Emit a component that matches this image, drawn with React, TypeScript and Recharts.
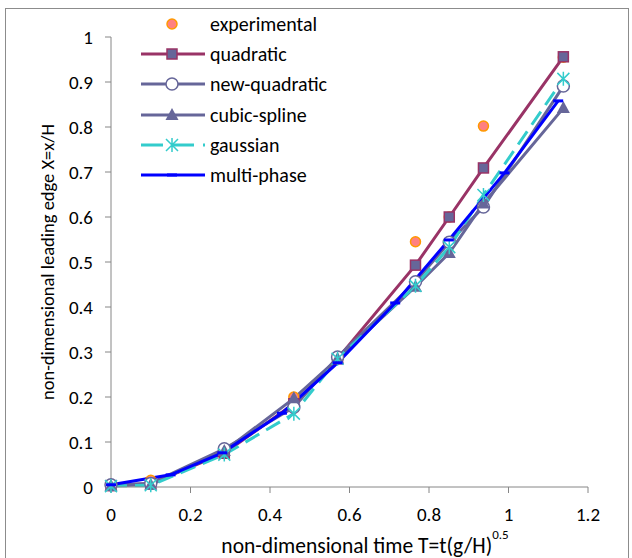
import {
  ComposedChart,
  Legend,
  Line,
  Scatter,
  XAxis,
  YAxis,
} from 'recharts'

// sampling times shared by the fitted curves (multi-phase has its own)
const timeT = [0, 0.1, 0.285, 0.46, 0.57, 0.766, 0.851, 0.937, 1.138]
const experimental = [0.005, 0.015, 0.08, 0.2, 0.285, 0.545, 0.6, 0.802, 0.955]
const quadratic = [0.003, 0.008, 0.075, 0.185, 0.285, 0.493, 0.6, 0.709, 0.956]
const newQuadratic = [0.005, 0.008, 0.085, 0.177, 0.289, 0.456, 0.544, 0.622, 0.891]
const cubicSpline = [0.003, 0.005, 0.08, 0.197, 0.285, 0.445, 0.52, 0.63, 0.842]
const gaussian = [0.002, 0.004, 0.072, 0.163, 0.285, 0.447, 0.533, 0.649, 0.907]

const multiPhaseT = [0, 0.15, 0.28, 0.43, 0.57, 0.715, 0.85, 0.99, 1.125]
const multiPhase = [0.005, 0.027, 0.076, 0.164, 0.276, 0.409, 0.549, 0.698, 0.858]

const xTicks = [0, 0.2, 0.4, 0.6, 0.8, 1, 1.2]
const yTicks = [0, 0.1, 0.2, 0.3, 0.4, 0.5, 0.6, 0.7, 0.8, 0.9, 1]

const FONT = 'Carlito, Calibri, Lato, sans-serif'
const AXIS = '#868686'
const C = {
  orange: '#ff9900',
  salmon: '#ff8080',
  maroon: '#993366',
  slate: '#666699',
  teal: '#33cccc',
  blue: '#0000ff',
}

const toPoints = (ts: number[], vs: number[]) => ts.map((t, i) => ({ t, v: vs[i] }))

type DotProps = { cx?: number; cy?: number; index?: number }

const Square = ({ cx = 0, cy = 0 }: DotProps) => (
  <rect x={cx - 5} y={cy - 5} width={10} height={10} fill={C.slate} stroke={C.maroon} strokeWidth={1.5} />
)
const Ring = ({ cx = 0, cy = 0 }: DotProps) => (
  <circle cx={cx} cy={cy} r={6} fill="#fff" stroke={C.slate} strokeWidth={1.5} />
)
const Tri = ({ cx = 0, cy = 0 }: DotProps) => (
  <path d={`M${cx},${cy - 7} L${cx + 6.5},${cy + 5} L${cx - 6.5},${cy + 5} Z`} fill={C.slate} />
)
const Star = ({ cx = 0, cy = 0 }: DotProps) => (
  <path
    d={`M${cx},${cy - 7} V${cy + 7} M${cx - 6},${cy - 6} L${cx + 6},${cy + 6} M${cx + 6},${cy - 6} L${cx - 6},${cy + 6}`}
    stroke={C.teal}
    strokeWidth={1.5}
    fill="none"
  />
)
const Dash = ({ cx = 0, cy = 0 }: DotProps) => (
  <rect x={cx - 5} y={cy - 1.5} width={10} height={3} fill={C.blue} />
)
const Blob = ({ cx = 0, cy = 0 }: DotProps) => (
  <circle cx={cx} cy={cy} r={5} fill={C.salmon} stroke={C.orange} strokeWidth={1.5} />
)

const dotOf = (Shape: (p: DotProps) => JSX.Element, name: string) => (p: DotProps) => (
  <Shape key={`${name}-${p.index}`} cx={p.cx} cy={p.cy} />
)

const legendRows = [
  { name: 'experimental', marker: Blob, stroke: undefined as string | undefined, dash: undefined as string | undefined },
  { name: 'quadratic', marker: Square, stroke: C.maroon, dash: undefined },
  { name: 'new-quadratic', marker: Ring, stroke: C.slate, dash: undefined },
  { name: 'cubic-spline', marker: Tri, stroke: C.slate, dash: undefined },
  { name: 'gaussian', marker: Star, stroke: C.teal, dash: '22 9' },
  { name: 'multi-phase', marker: Dash, stroke: C.blue, dash: undefined },
]

const renderLegend = () => (
  <div style={{ fontFamily: FONT, fontSize: 20, color: '#000' }}>
    {legendRows.map((r) => {
      const M = r.marker
      return (
        <div key={r.name} style={{ display: 'flex', alignItems: 'center', height: 30.2 }}>
          <svg width={68} height={20} style={{ display: 'block' }}>
            {r.stroke && (
              <line x1={2} y1={10} x2={66} y2={10} stroke={r.stroke} strokeWidth={3} strokeDasharray={r.dash} />
            )}
            <M cx={33} cy={10} />
          </svg>
          <span style={{ marginLeft: 3 }}>{r.name}</span>
        </div>
      )
    })}
  </div>
)

const YTitle = () => (
  <text
    x={47}
    y={262}
    transform="rotate(-90 47 262)"
    textAnchor="middle"
    dominantBaseline="central"
    fontFamily={FONT}
    fontSize={18.5}
    fill="#000"
  >
    non-dimensional leading edge X=x/H
  </text>
)

const XTitle = () => (
  <text x={365} y={553} textAnchor="middle" fontFamily={FONT} fontSize={21.5} fill="#000">
    non-dimensional time T=t(g/H)
    <tspan dy={-14} fontSize={13}>
      0.5
    </tspan>
  </text>
)

export default function App() {
  return (
    <div
      style={{
        position: 'fixed',
        left: 0,
        top: 0,
        width: 632,
        height: 558,
        overflow: 'hidden',
        background: '#fff',
      }}
    >
      <div
        style={{
          position: 'absolute',
          left: 5,
          top: 8,
          width: 622,
          height: 600,
          border: '1px solid #8c8c8c',
        }}
      />
      <div style={{ position: 'absolute', left: 0, top: 0 }}>
        <ComposedChart width={632} height={558} margin={{ top: 37, right: 44, bottom: 31, left: 51 }}>
          <XAxis
            type="number"
            dataKey="t"
            domain={[0, 1.2]}
            ticks={xTicks}
            stroke={AXIS}
            tickSize={6}
            tickMargin={15}
            height={40}
            tick={{ fill: '#000', fontSize: 19, fontFamily: FONT }}
            label={<XTitle />}
          />
          <YAxis
            type="number"
            dataKey="v"
            domain={[0, 1]}
            ticks={yTicks}
            stroke={AXIS}
            tickSize={6}
            tickMargin={12}
            width={60}
            tick={{ fill: '#000', fontSize: 19, fontFamily: FONT }}
            label={<YTitle />}
          />
          <Legend
            layout="vertical"
            verticalAlign="middle"
            align="center"
            content={renderLegend}
            wrapperStyle={{ left: 139, top: 9, width: 260 }}
          />
          <Scatter
            name="experimental"
            data={toPoints(timeT, experimental)}
            shape={(p: DotProps) => <Blob cx={p.cx} cy={p.cy} />}
            isAnimationActive={false}
          />
          <Line
            name="quadratic"
            data={toPoints(timeT, quadratic)}
            dataKey="v"
            stroke={C.maroon}
            strokeWidth={3}
            dot={dotOf(Square, 'q')}
            activeDot={false}
            isAnimationActive={false}
          />
          <Line
            name="new-quadratic"
            data={toPoints(timeT, newQuadratic)}
            dataKey="v"
            stroke={C.slate}
            strokeWidth={3}
            dot={dotOf(Ring, 'nq')}
            activeDot={false}
            isAnimationActive={false}
          />
          <Line
            name="cubic-spline"
            data={toPoints(timeT, cubicSpline)}
            dataKey="v"
            stroke={C.slate}
            strokeWidth={3}
            dot={dotOf(Tri, 'cs')}
            activeDot={false}
            isAnimationActive={false}
          />
          <Line
            name="gaussian"
            data={toPoints(timeT, gaussian)}
            dataKey="v"
            stroke={C.teal}
            strokeWidth={3}
            strokeDasharray="16 8"
            dot={dotOf(Star, 'g')}
            activeDot={false}
            isAnimationActive={false}
          />
          <Line
            name="multi-phase"
            data={toPoints(multiPhaseT, multiPhase)}
            dataKey="v"
            stroke={C.blue}
            strokeWidth={3}
            dot={dotOf(Dash, 'mp')}
            activeDot={false}
            isAnimationActive={false}
          />
        </ComposedChart>
      </div>
    </div>
  )
}
